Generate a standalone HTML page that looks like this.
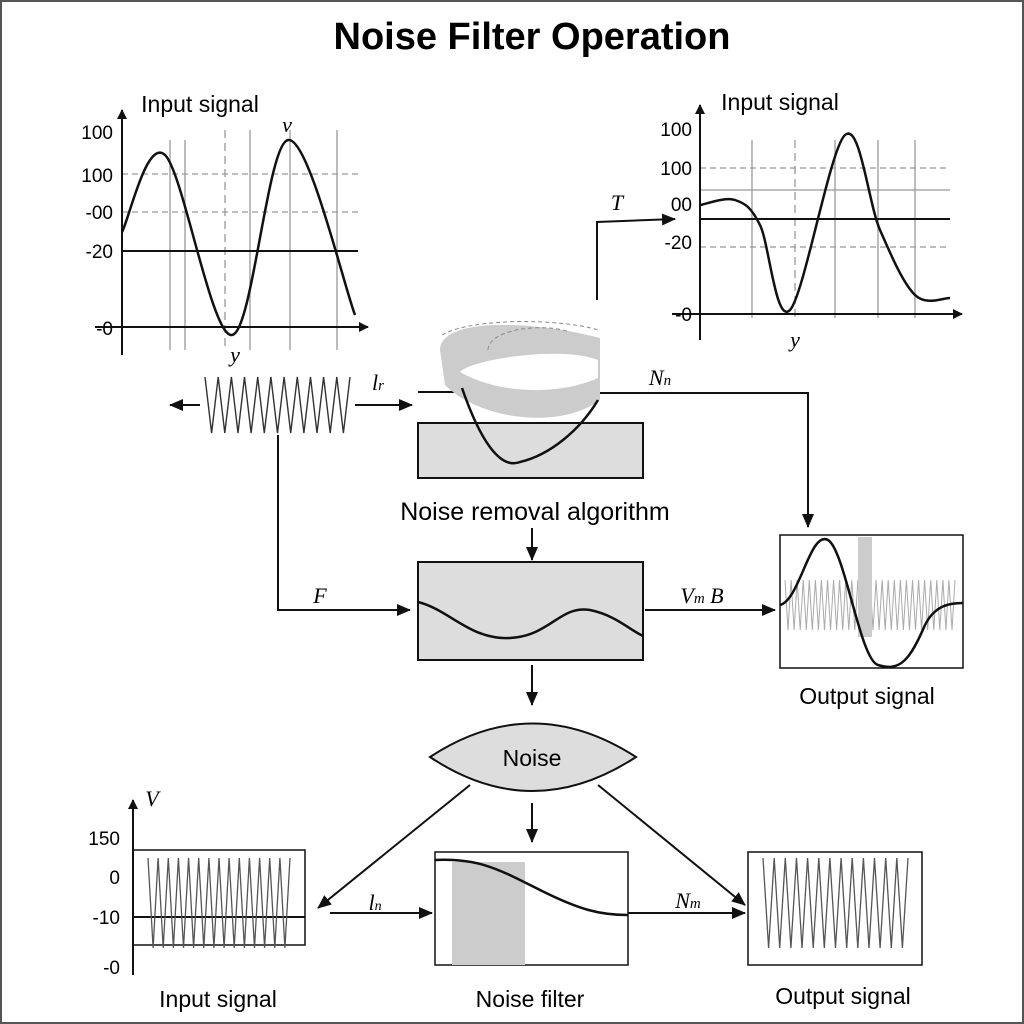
<!DOCTYPE html>
<html><head><meta charset="utf-8"><style>
body{margin:0;background:#fff}
svg{display:block;font-family:"Liberation Sans",sans-serif}
.it{font-family:"Liberation Serif",serif;font-style:italic;font-size:22px}
</style></head><body>
<svg id="s" width="1024" height="1024" viewBox="0 0 1024 1024">
<defs><marker id="ar" markerWidth="10" markerHeight="10" refX="9" refY="5" orient="auto" markerUnits="userSpaceOnUse"><path d="M0,0 L10,5 L0,10 z" fill="#111"/></marker>
<marker id="ar2" markerWidth="14" markerHeight="12" refX="13" refY="6" orient="auto" markerUnits="userSpaceOnUse"><path d="M0,0 L14,6 L0,12 z" fill="#111"/></marker></defs>
<rect x="1" y="1" width="1022" height="1022" fill="none" stroke="#555" stroke-width="2"/>
<text x="532" y="49" text-anchor="middle" font-size="38" font-weight="bold">Noise Filter Operation</text>

<g stroke="#999" stroke-width="1.3">
<line x1="122" y1="174" x2="360" y2="174" stroke-dasharray="6,4"/>
<line x1="122" y1="212" x2="360" y2="212" stroke-dasharray="6,4"/>
<line x1="170" y1="140" x2="170" y2="350"/><line x1="185" y1="140" x2="185" y2="350"/>
<line x1="225" y1="130" x2="225" y2="350" stroke-dasharray="8,5"/><line x1="250" y1="130" x2="250" y2="350"/>
<line x1="290" y1="130" x2="290" y2="350"/><line x1="337" y1="130" x2="337" y2="350"/>
<line x1="122" y1="251" x2="358" y2="251" stroke="#111" stroke-width="2"/>
<line x1="122" y1="355" x2="122" y2="110" stroke="#111" stroke-width="2" marker-end="url(#ar)"/>
<line x1="95" y1="327" x2="368" y2="327" stroke="#111" stroke-width="2" marker-end="url(#ar)"/>
<path id="c1" fill="none" stroke="#111" stroke-width="2.5"/>
</g>
<g font-size="19" text-anchor="end">
<text x="113" y="139">100</text><text x="113" y="182">100</text><text x="113" y="219">-00</text><text x="113" y="258">-20</text><text x="113" y="335">-0</text></g>
<text x="200" y="112" text-anchor="middle" font-size="23">Input signal</text>
<text x="235" y="362" class="it" text-anchor="middle">y</text>
<text x="287" y="132" class="it" font-size="18" text-anchor="middle">v</text>

<g stroke="#999" stroke-width="1.3">
<line x1="700" y1="168" x2="950" y2="168" stroke-dasharray="6,4"/>
<line x1="700" y1="190" x2="950" y2="190"/>
<line x1="700" y1="247" x2="950" y2="247" stroke-dasharray="6,4"/>
<line x1="752" y1="140" x2="752" y2="318"/><line x1="795" y1="140" x2="795" y2="318" stroke-dasharray="8,5"/>
<line x1="835" y1="140" x2="835" y2="318"/><line x1="878" y1="140" x2="878" y2="318"/><line x1="915" y1="140" x2="915" y2="318"/>
<line x1="700" y1="219" x2="950" y2="219" stroke="#111" stroke-width="2"/>
<line x1="700" y1="340" x2="700" y2="105" stroke="#111" stroke-width="2" marker-end="url(#ar)"/>
<line x1="672" y1="314" x2="962" y2="314" stroke="#111" stroke-width="2" marker-end="url(#ar)"/>
<path id="c2" fill="none" stroke="#111" stroke-width="2.5"/>
</g>
<g font-size="19" text-anchor="end">
<text x="692" y="136">100</text><text x="692" y="175">100</text><text x="692" y="211">00</text><text x="692" y="249">-20</text><text x="692" y="321">-0</text></g>
<text x="780" y="110" text-anchor="middle" font-size="23">Input signal</text>
<text x="795" y="347" class="it" text-anchor="middle">y</text>

<path d="M597,300 L597,222 L675,219" fill="none" stroke="#111" stroke-width="2" marker-end="url(#ar2)"/>
<text x="617" y="210" class="it" text-anchor="middle">T</text>

<path id="z1" fill="none" stroke="#333" stroke-width="1.4"/>
<line x1="200" y1="405" x2="170" y2="405" stroke="#111" stroke-width="2" marker-end="url(#ar2)"/>
<line x1="355" y1="405" x2="412" y2="405" stroke="#111" stroke-width="2" marker-end="url(#ar2)"/>
<text x="378" y="390" class="it" text-anchor="middle">l<tspan font-size="15">r</tspan></text>

<line x1="418" y1="392" x2="462" y2="392" stroke="#111" stroke-width="2"/>
<path d="M600,393 L808,393 L808,527" fill="none" stroke="#111" stroke-width="2" marker-end="url(#ar2)"/>
<text x="660" y="385" class="it" text-anchor="middle">N<tspan font-size="15">n</tspan></text>
<rect x="418" y="423" width="225" height="55" fill="#ddd" stroke="#111" stroke-width="2"/>
<g>
<path d="M440,350 C440,320 520,318 600,338 L600,400 C560,430 480,420 445,385 Z" fill="#ccc"/>
<path d="M460,372 C470,360 560,345 598,360 L598,378 C560,395 500,395 460,372 Z" fill="#fff"/>
<path d="M488,350 C488,330 540,322 570,332" fill="none" stroke="#888" stroke-dasharray="4,3"/>
<path d="M442,335 C470,318 560,318 598,330" fill="none" stroke="#888" stroke-dasharray="4,3"/>
</g>
<path d="M462,388 C480,440 500,470 520,462 C550,455 580,430 598,400" fill="none" stroke="#111" stroke-width="2.5"/>
<text x="535" y="520" text-anchor="middle" font-size="25">Noise removal algorithm</text>
<line x1="532" y1="528" x2="532" y2="560" stroke="#111" stroke-width="2" marker-end="url(#ar2)"/>

<rect x="418" y="562" width="225" height="98" fill="#ddd" stroke="#111" stroke-width="2"/>
<path d="M418,602 C450,610 470,640 510,638 C550,636 560,605 590,610 C615,615 630,630 643,636" fill="none" stroke="#111" stroke-width="2.5"/>
<path d="M278,435 L278,610 L410,610" fill="none" stroke="#111" stroke-width="2" marker-end="url(#ar2)"/>
<text x="320" y="603" class="it" text-anchor="middle">F</text>
<line x1="645" y1="610" x2="775" y2="610" stroke="#111" stroke-width="2" marker-end="url(#ar2)"/>
<text x="702" y="603" class="it" text-anchor="middle">V<tspan font-size="15">m</tspan> B</text>

<rect x="780" y="535" width="183" height="133" fill="#fff" stroke="#111" stroke-width="1.5"/>
<path id="o1" fill="none" stroke="#aaa" stroke-width="1"/>
<rect x="858" y="537" width="14" height="100" fill="#ccc"/>
<path d="M780,605 C800,600 810,530 828,540 C845,550 860,660 878,665 C900,672 910,660 925,625 C935,605 950,603 963,603" fill="none" stroke="#111" stroke-width="2.5"/>
<text x="867" y="704" text-anchor="middle" font-size="23">Output signal</text>
<line x1="532" y1="665" x2="532" y2="705" stroke="#111" stroke-width="2" marker-end="url(#ar2)"/>

<path d="M430,757 Q532,690 636,757 Q532,825 430,757 Z" fill="#ddd" stroke="#111" stroke-width="2"/>
<text x="532" y="766" text-anchor="middle" font-size="23">Noise</text>
<line x1="470" y1="785" x2="318" y2="908" stroke="#111" stroke-width="2" marker-end="url(#ar2)"/>
<line x1="532" y1="803" x2="532" y2="842" stroke="#111" stroke-width="2" marker-end="url(#ar2)"/>
<line x1="598" y1="785" x2="745" y2="905" stroke="#111" stroke-width="2" marker-end="url(#ar2)"/>

<g>
<line x1="133" y1="975" x2="133" y2="800" stroke="#111" stroke-width="2" marker-end="url(#ar)"/>
<rect x="133" y="850" width="172" height="95" fill="none" stroke="#111" stroke-width="1.5"/>
<line x1="133" y1="917" x2="305" y2="917" stroke="#111" stroke-width="2"/>
<path id="z2" fill="none" stroke="#555" stroke-width="1.3"/>
</g>
<g font-size="19" text-anchor="end"><text x="120" y="845">150</text><text x="120" y="884">0</text><text x="120" y="924">-10</text><text x="120" y="974">-0</text></g>
<text x="152" y="806" class="it" text-anchor="middle">V</text>
<text x="218" y="1007" text-anchor="middle" font-size="23">Input signal</text>
<line x1="330" y1="913" x2="432" y2="913" stroke="#111" stroke-width="2" marker-end="url(#ar2)"/>
<text x="375" y="910" class="it" text-anchor="middle" font-size="19">l<tspan font-size="14">n</tspan></text>

<rect x="435" y="852" width="193" height="113" fill="#fff" stroke="#111" stroke-width="1.5"/>
<rect x="452" y="862" width="73" height="103" fill="#ccc"/>
<path d="M435,860 C480,858 500,870 540,890 C580,910 600,915 628,915" fill="none" stroke="#111" stroke-width="2.5"/>
<text x="530" y="1007" text-anchor="middle" font-size="23">Noise filter</text>
<line x1="628" y1="913" x2="745" y2="913" stroke="#111" stroke-width="2" marker-end="url(#ar2)"/>
<text x="688" y="908" class="it" text-anchor="middle" font-size="20">N<tspan font-size="15">m</tspan></text>

<rect x="748" y="852" width="174" height="113" fill="#fff" stroke="#111" stroke-width="1.5"/>
<path id="z3" fill="none" stroke="#555" stroke-width="1.3"/>
<text x="843" y="1004" text-anchor="middle" font-size="23">Output signal</text>
</svg>
<script>
const curve1X=[122,165,232,288,355];
const curve1Y=[232,155,335,140,315];
const curve2X=[700,735,760,790,845,880,915,950];
const curve2Y=[205,200,225,310,135,230,295,298];
const zigCount=[22,14,13,28];
function smooth(xs,ys){let d='M'+xs[0]+','+ys[0];for(let i=0;i<xs.length-1;i++){const p0=[xs[Math.max(i-1,0)],ys[Math.max(i-1,0)]],p1=[xs[i],ys[i]],p2=[xs[i+1],ys[i+1]],p3=[xs[Math.min(i+2,xs.length-1)],ys[Math.min(i+2,xs.length-1)]];
const c1=[p1[0]+(p2[0]-p0[0])/6,p1[1]+(p2[1]-p0[1])/6],c2=[p2[0]-(p3[0]-p1[0])/6,p2[1]-(p3[1]-p1[1])/6];
d+=' C'+c1.join(',')+' '+c2.join(',')+' '+p2.join(',');}return d;}
document.getElementById('c1').setAttribute('d',smooth(curve1X,curve1Y));
document.getElementById('c2').setAttribute('d',smooth(curve2X,curve2Y));
function zig(x0,x1,yc,a,n){let d='';for(let i=0;i<=n;i++){const x=x0+(x1-x0)*i/n;const y=yc+(i%2?a:-a);d+=(i?'L':'M')+x.toFixed(1)+','+y;}return d;}
document.getElementById('z1').setAttribute('d',zig(205,350,405,28,zigCount[0]));
document.getElementById('z2').setAttribute('d',zig(148,290,903,45,zigCount[1]*2));
document.getElementById('z3').setAttribute('d',zig(763,908,903,45,zigCount[2]*2));
document.getElementById('o1').setAttribute('d',zig(785,955,605,25,zigCount[3]*2));
</script>
</body></html>
